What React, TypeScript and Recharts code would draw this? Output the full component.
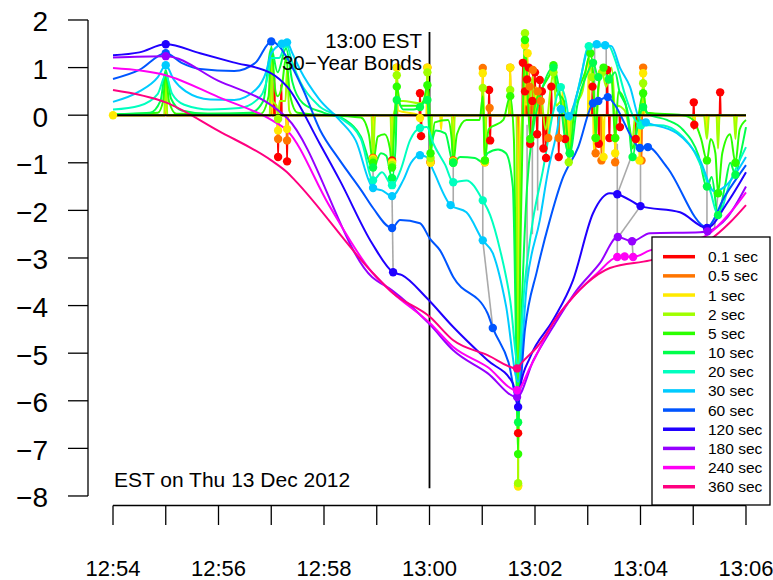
import { LineChart, Line, XAxis, YAxis, ReferenceLine } from "recharts";

const FONT = '"Liberation Sans", Arial, Helvetica, sans-serif';

// [minutes after 12:54 EST, value, dot?]
type Pt = [number, number, number?];

const S_01: Pt[] = [
  [0, 0], [0.99, 0], [1.0, 0.7], [1.01, 0], [2.99, 0], [3.0, 1.2], [3.01, 0], [3.05, 0], [3.06, 0.8], [3.07, 0],
  [3.12, 0], [3.13, -0.88, 1], [3.14, 0], [3.18, 0], [3.19, 0.65], [3.2, 0], [3.29, 0], [3.3, -0.97, 1], [3.31, 0],
  [4.92, 0], [4.93, -0.9, 1], [4.94, 0], [5.28, 0], [5.29, -0.95, 1], [5.3, 0], [5.81, 0], [5.82, 0.46, 1], [5.83, 0],
  [5.84, -0.44, 1], [5.85, 0], [6.01, 0], [6.02, -0.99, 1], [6.03, 0], [6.44, 0], [6.45, -0.95, 1], [6.46, 0],
  [7.12, 0], [7.13, 0.53, 1], [7.14, 0], [7.15, -0.53, 1], [7.16, 0], [7.52, 0], [7.53, 0.6], [7.54, 0], [7.67, 0],
  [7.68, -6.68, 1], [7.69, 0], [7.76, 0], [7.77, 1.1, 1], [7.78, 0], [7.8, 0], [7.81, 0.5, 1], [7.82, 0], [7.84, 0],
  [7.85, 0.75, 1], [7.86, 0], [7.87, 0], [7.88, 1.0, 1], [7.89, 0], [7.9, 0], [7.91, -0.6, 1], [7.92, 0], [7.94, 0],
  [7.95, 0.3, 1], [7.96, 0], [7.99, 0], [8.0, 0.9, 1], [8.01, 0], [8.03, 0], [8.04, -0.4, 1], [8.05, 0], [8.08, 0],
  [8.09, 0.74, 1], [8.1, 0], [8.12, 0], [8.13, 0.5, 1], [8.14, 0], [8.15, 0], [8.16, -0.7, 1], [8.17, 0], [8.2, 0],
  [8.21, -0.9, 1], [8.22, 0], [8.3, 0], [8.31, 0.6, 1], [8.32, 0], [8.44, 0], [8.45, -0.88, 1], [8.46, 0], [8.56, 0],
  [8.57, -0.5, 1], [8.58, 0], [9.08, 0], [9.09, 0.6, 1], [9.1, 0], [9.2, 0], [9.21, -0.6, 1], [9.22, 0], [9.36, 0],
  [9.37, 0.95, 1], [9.38, 0], [9.4, 0], [9.41, -0.48, 1], [9.42, 0], [9.6, 0], [9.61, -0.25, 1], [9.62, 0], [9.9, 0],
  [9.91, -0.5, 1], [9.92, 0], [11.0, 0], [11.01, 0.27, 1], [11.02, -0.2, 1], [11.03, 0], [11.5, 0], [11.51, 0.48, 1],
  [11.52, 0], [12.0, 0],
];

const S_05: Pt[] = [
  [0, 0], [0.99, 0], [1.0, 0.75], [1.01, 0], [2.99, 0], [3.0, 1.3], [3.01, 0], [3.12, 0], [3.13, -0.5, 1], [3.14, 0],
  [3.29, 0], [3.3, -0.53, 1], [3.31, 0], [4.92, 0], [4.93, -0.9, 1], [4.94, 0], [5.28, 0], [5.29, -0.98, 1], [5.3, 0],
  [5.37, 0], [5.38, 1.0, 1], [5.39, 0], [5.95, 0], [5.96, 1.0, 1], [5.97, 0], [6.01, 0], [6.02, -0.99, 1], [6.03, 0],
  [6.44, 0], [6.45, -0.95, 1], [6.46, 0], [7.0, 0], [7.01, 0.99, 1], [7.02, 0], [7.04, 0], [7.05, -0.99, 1], [7.06, 0],
  [7.13, 0], [7.14, 0.15, 1], [7.15, 0], [7.52, 0], [7.53, 1.0, 1], [7.54, 0], [7.67, 0], [7.68, -7.78, 1], [7.69, 0],
  [7.8, 0], [7.81, 1.0], [7.82, 0], [7.89, 0], [7.9, 0.6, 1], [7.91, 0], [7.95, 0], [7.96, 0.95, 1], [7.97, 0],
  [8.04, 0], [8.05, 0.5, 1], [8.06, 0], [8.1, 0], [8.11, 0.3, 1], [8.12, 0], [8.24, 0], [8.25, -0.48, 1], [8.26, 0],
  [8.44, 0], [8.45, -0.48, 1], [8.46, 0], [9.14, 0], [9.15, -0.8, 1], [9.16, 0], [9.25, 0], [9.26, -0.95, 1],
  [9.27, 0], [9.51, 0], [9.52, -0.99, 1], [9.53, 0], [10.01, 0], [10.02, -0.95, 1], [10.03, 0], [10.04, 0.1],
  [10.05, 1.0, 1], [10.06, 0], [11.0, 0], [11.01, -0.3], [11.02, 0], [11.25, 0], [11.26, -0.3], [11.27, 0], [11.46, 0],
  [11.47, -0.45], [11.48, 0], [11.79, 0], [11.8, -0.3], [11.81, 0], [12.0, 0],
];

const S_1: Pt[] = [
  [0, 0, 1], [0.98, 0], [1.0, 0.8], [1.02, 0], [2.98, 0], [3.0, 1.35], [3.02, 0], [3.11, 0], [3.13, -0.32, 1], [3.15, 0],
  [3.28, 0], [3.3, -0.29, 1], [3.32, 0], [4.91, 0], [4.93, -0.92, 1], [4.95, 0], [5.27, 0], [5.29, -1.0, 1], [5.31, 0],
  [5.36, 0], [5.38, 1.0, 1], [5.4, 0.1], [5.8, 0], [5.82, -0.06, 1], [5.84, 0], [5.94, 0], [5.96, 1.0, 1], [5.98, 0],
  [6.0, 0], [6.02, -1.0, 1], [6.04, 0], [6.2, 0], [6.22, -0.3], [6.24, 0], [6.43, 0], [6.45, -0.97, 1], [6.47, 0],
  [6.99, 0], [7.01, 0.88, 1], [7.03, 0], [7.05, -0.99, 1], [7.07, 0], [7.51, 0], [7.53, 1.0, 1], [7.55, 0], [7.66, 0],
  [7.68, -7.8, 1], [7.7, 0], [7.79, 0], [7.81, 1.47, 1], [7.83, 0.2], [7.86, 1.3, 1], [7.88, 0], [8.0, 0], [8.02, 0.6],
  [8.04, 0], [8.25, 0], [8.27, -0.5], [8.29, 0], [8.5, 0], [8.52, 0.5], [8.54, 0], [8.62, 0], [8.64, -0.7], [8.66, 0],
  [9.0, 0], [9.02, 1.2], [9.04, 0], [9.1, 0], [9.12, -0.8], [9.14, 0], [9.28, 0], [9.3, -0.88, 1], [9.32, 0], [9.5, 0],
  [9.52, -0.8, 1], [9.54, 0], [9.96, 0], [9.98, -0.95, 1], [10.0, 0], [10.03, 0], [10.05, 0.88, 1], [10.07, 0],
  [11.0, 0], [11.02, -0.2], [11.04, 0], [11.24, 0], [11.26, -0.4], [11.28, 0], [11.45, 0], [11.47, -0.5], [11.49, 0],
  [11.78, 0], [11.8, -0.4], [11.82, 0], [12.0, 0],
];

const S_2: Pt[] = [
  [0, 0], [0.97, 0], [1.0, 0.85], [1.03, 0], [2.97, 0], [3.0, 1.4], [3.03, 0.3], [3.1, 0.2], [3.13, -0.08, 1],
  [3.16, 0.3], [3.27, 0.3], [3.3, 1.0], [3.34, 0.1], [3.4, 0], [4.9, 0], [4.93, -0.95, 1], [4.97, 0], [5.26, 0],
  [5.29, -1.05, 1], [5.32, 0], [5.36, 0.2], [5.38, 0.84, 1], [5.42, 0.3], [5.5, 0.3], [5.8, 0.25], [5.94, 0.3],
  [5.96, 0.9, 1], [5.99, 0.2], [6.02, -0.9, 1], [6.05, 0], [6.42, 0], [6.45, -0.98, 1], [6.48, 0], [6.98, 0],
  [7.01, 0.57, 1], [7.03, 0], [7.05, -0.95, 1], [7.08, 0], [7.5, 0], [7.53, 0.53, 1], [7.56, 0], [7.65, 0],
  [7.68, -7.73, 1], [7.72, -1.0], [7.78, 0.5], [7.81, 1.72, 1], [7.85, 0.3], [7.9, 0.2], [7.95, 0.8], [8.0, 0.2],
  [8.1, 0.5], [8.2, -0.3], [8.3, 0.6], [8.35, 0.9, 1], [8.4, 0.2], [8.5, 0.3], [8.6, -0.5], [8.64, -0.99, 1], [8.7, 0.1],
  [8.9, 0.5], [9.02, 1.2], [9.08, 0.8, 1], [9.12, 0.3], [9.15, -0.48, 1], [9.2, 0.5], [9.27, 0.9, 1], [9.35, 0.6],
  [9.45, 1.0], [9.5, 0.3], [9.52, -0.48, 1], [9.56, 0.2], [9.7, 0.1], [9.85, -0.5], [9.9, 0], [10.02, 0],
  [10.05, 0.67, 1], [10.1, 0.05], [10.6, 0], [11.2, 0], [11.26, -0.5], [11.3, 0], [11.44, 0], [11.47, -0.7], [11.5, 0],
  [11.77, 0], [11.8, -0.5], [11.83, 0], [12.0, 0],
];

const S_5: Pt[] = [
  [0, 0.01], [0.85, 0.05], [0.95, 0.3], [1.0, 0.9], [1.06, 0.3], [1.2, 0.03], [2.8, 0.03], [2.95, 0.4], [3.0, 1.45],
  [3.08, 0.5], [3.12, 0.4], [3.2, 0.6], [3.28, 1.2], [3.36, 0.4], [3.5, 0.05], [4.7, -0.05], [4.85, -0.4],
  [4.93, -1.0, 1], [5.02, -0.45], [5.15, -0.4], [5.25, -0.7], [5.29, -1.1, 1], [5.33, -0.3], [5.38, 0.6, 1], [5.45, 0.2],
  [5.7, 0.2], [5.82, 0.2], [5.9, 0.35], [5.96, 0.63, 1], [6.0, 0.1], [6.02, -0.8, 1], [6.1, -0.15], [6.35, -0.1],
  [6.42, -0.5], [6.45, -1.0, 1], [6.52, -0.4], [6.7, -0.1], [6.95, -0.1], [7.01, 0.4], [7.05, -0.95, 1], [7.12, -0.3],
  [7.4, -0.1], [7.53, 0.4, 1], [7.6, -0.5], [7.68, -7.12, 1], [7.72, -3.0], [7.78, 0.5], [7.81, 1.58, 1], [7.86, 0.5],
  [7.91, -0.5, 1], [8.0, 0.2], [8.15, 0.6], [8.3, 0.9], [8.35, 1.05, 1], [8.42, 0.5], [8.55, 0.3], [8.62, -0.5],
  [8.66, -0.8, 1], [8.75, 0.2], [8.95, 0.9], [9.05, 1.3, 1], [9.1, 0.9], [9.15, -0.48, 1], [9.2, 0.6], [9.3, 1.0, 1],
  [9.45, 0.8], [9.52, -0.48, 1], [9.58, 0.5], [9.7, 0.3], [9.8, -0.3], [9.85, -0.7], [9.95, -0.1], [10.05, 0.46, 1],
  [10.12, 0.05], [10.8, 0], [11.0, -0.1], [11.15, -0.5], [11.26, -0.95, 1], [11.33, -0.5], [11.42, -0.8],
  [11.47, -1.64, 1], [11.55, -0.8], [11.7, -0.4], [11.8, -1.0, 1], [11.88, -0.3], [12.0, -0.1],
];

const S_10: Pt[] = [
  [0, 0.02], [0.7, 0.05], [0.9, 0.3], [1.0, 0.95], [1.1, 0.35], [1.3, 0.1], [1.8, 0.03], [2.6, 0.05], [2.85, 0.3],
  [3.0, 1.4], [3.12, 0.9], [3.28, 1.4], [3.4, 0.7], [3.6, 0.25], [4.0, 0.05], [4.4, -0.1], [4.7, -0.45],
  [4.93, -1.1, 1], [5.08, -0.8], [5.18, -0.85], [5.29, -1.32, 1], [5.36, -0.6], [5.38, 0.32, 1], [5.5, 0.12],
  [5.7, 0.12], [5.82, 0.17, 1], [5.96, 0.32, 1], [6.01, -0.63], [6.12, -0.32], [6.3, -0.38], [6.45, -1.0, 1],
  [6.58, -0.88], [6.86, -0.9], [7.01, -0.99], [7.1, -0.8], [7.3, -0.72], [7.45, -0.8], [7.58, -1.5], [7.68, -6.45, 1],
  [7.75, -4.0], [7.85, -1.5], [7.95, -0.4], [8.1, 0.4], [8.35, 1.0, 1], [8.45, 0.6], [8.6, -0.7], [8.66, -0.8, 1],
  [8.8, 0.2], [9.0, 0.9], [9.1, 1.1, 1], [9.2, 0.8, 1], [9.3, 1.0], [9.4, 0.75, 1], [9.52, 0.9], [9.6, 0.5],
  [9.75, 0.1], [9.85, -0.88, 1], [9.95, -0.2], [10.05, 0.17, 1], [10.15, 0.02], [10.5, -0.1], [10.8, -0.3],
  [11.1, -0.85], [11.26, -1.5, 1], [11.35, -1.3], [11.47, -2.1, 1], [11.6, -1.5], [11.7, -1.0], [11.8, -1.25, 1],
  [11.9, -0.8], [12.0, -0.25],
];

const S_20: Pt[] = [
  [0, 0.12], [0.5, 0.2], [0.85, 0.45], [1.0, 0.85], [1.12, 0.45], [1.35, 0.22], [1.84, 0.12], [2.4, 0.15], [2.8, 0.4],
  [2.95, 0.9], [3.0, 1.2], [3.15, 1.2], [3.28, 1.5, 1], [3.4, 1.1], [3.55, 0.7], [3.9, 0.2], [4.3, -0.05], [4.7, -0.5],
  [4.93, -1.37, 1], [5.1, -1.2], [5.29, -1.47, 1], [5.45, -1.16], [5.63, -0.53], [5.82, -0.27, 1], [5.95, -0.25],
  [6.07, -0.59], [6.3, -1.05], [6.45, -1.41, 1], [6.7, -1.37], [7.01, -1.79, 1], [7.15, -2.1], [7.34, -2.84],
  [7.53, -3.89], [7.68, -5.25], [7.8, -3.6], [7.96, -2.21], [8.15, -1.16], [8.34, 0.04], [8.49, 0.59, 1], [8.57, 0.38],
  [8.66, -0.1], [8.85, 0.7], [9.02, 1.45, 1], [9.2, 1.45], [9.4, 1.45], [9.52, 1.16], [9.71, 0.42], [9.9, -0.1],
  [10.01, -0.21, 1], [10.37, -0.21], [10.94, -0.63], [11.32, -1.58], [11.47, -2.1], [11.7, -1.4], [12.0, -0.67],
];

const S_30: Pt[] = [
  [0, 0.28], [0.5, 0.5], [0.85, 0.8], [1.0, 1.05, 1], [1.15, 0.75], [1.38, 0.5], [1.84, 0.33], [2.3, 0.32],
  [2.72, 0.55], [2.9, 0.9], [3.0, 1.3], [3.2, 1.5, 1], [3.3, 1.53, 1], [3.4, 1.3], [3.55, 0.95], [3.9, 0.35],
  [4.3, -0.11], [4.6, -0.53], [4.93, -1.53, 1], [5.1, -1.58], [5.29, -1.7, 1], [5.5, -1.37], [5.65, -1.0],
  [5.82, -0.84, 1], [5.95, -0.88], [6.07, -1.16], [6.4, -1.89, 1], [6.7, -2.04], [7.01, -2.63, 1], [7.2, -2.9],
  [7.45, -4.0], [7.68, -5.6], [7.85, -3.5], [8.09, -2.21], [8.25, -1.16], [8.42, -0.32], [8.49, 0.13, 1],
  [8.64, -0.02, 1], [8.8, 0.46], [9.04, 1.47], [9.17, 1.49, 1], [9.33, 1.47, 1], [9.45, 1.45], [9.61, 1.0], [9.8, 0.6],
  [9.99, -0.1], [10.1, -0.15, 1], [10.69, -0.38], [11.13, -0.95], [11.4, -1.6], [11.6, -1.5], [12.0, -0.88],
];

const S_60: Pt[] = [
  [0, 0.76], [0.5, 0.95], [1.0, 1.3, 1], [1.3, 1.1], [1.65, 0.97], [2.3, 0.93], [2.7, 1.1], [3.0, 1.55, 1],
  [3.15, 1.45], [3.3, 1.2], [3.6, 0.55], [3.92, -0.3], [4.3, -0.95], [4.72, -1.6], [4.93, -1.95], [5.29, -2.37, 1],
  [5.44, -2.2], [5.82, -2.27], [6.01, -2.6], [6.2, -2.84], [6.45, -3.4], [7.1, -4.16], [7.2, -4.47, 1], [7.5, -5.2],
  [7.68, -6.05], [7.81, -4.5], [8.04, -3.26], [8.28, -2.21], [8.51, -1.37], [8.82, -0.67], [9.1, 0.25, 1],
  [9.2, 0.3, 1], [9.38, 0.38, 1], [9.48, 0.27], [9.93, -0.63], [9.99, -0.69, 1], [10.14, -0.67, 1], [10.5, -1.09],
  [11.26, -2.35], [11.6, -1.7], [12.0, -1.05],
];

const S_120: Pt[] = [
  [0, 1.26], [0.5, 1.32], [1.0, 1.49, 1], [1.65, 1.3], [2.28, 1.11], [3.0, 0.88], [3.3, 0.6], [3.92, -0.6],
  [4.3, -1.37], [4.91, -2.69], [5.31, -3.3, 1], [5.48, -3.36], [5.93, -3.82], [6.45, -4.45], [7.1, -5.15],
  [7.58, -5.63], [7.68, -6.13, 1], [7.72, -5.71], [7.91, -5.08], [8.34, -4.31], [8.72, -3.47], [9.1, -2.06],
  [9.42, -1.64], [9.56, -1.66, 1], [9.9, -1.85], [10.0, -1.91, 1], [10.75, -2.04], [11.26, -2.37, 1], [11.64, -1.85],
  [12.0, -1.2],
];

const S_180: Pt[] = [
  [0, 1.21], [1.0, 1.24, 1], [2.0, 0.72], [3.0, 0.21], [3.3, -0.06], [4.91, -3.4], [5.29, -3.68], [6.01, -4.4],
  [6.45, -4.94], [7.1, -5.42], [7.66, -5.92, 1], [7.97, -5.15], [8.34, -4.45], [8.79, -3.68], [9.23, -3.11],
  [9.57, -2.56, 1], [9.84, -2.65, 1], [10.18, -2.48], [11.13, -2.46], [11.27, -2.44, 1], [11.65, -2.14], [12.0, -1.5],
];

const S_240: Pt[] = [
  [0, 0.99], [1.0, 0.84], [2.0, 0.38], [3.0, -0.1], [3.3, -0.32], [4.1, -1.9], [4.91, -3.3], [5.29, -3.72],
  [6.01, -4.37], [6.45, -4.87], [7.1, -5.29], [7.66, -5.78, 1], [7.91, -5.29], [8.34, -4.37], [8.72, -3.82],
  [9.18, -3.32], [9.56, -2.98, 1], [9.7, -2.97, 1], [9.86, -2.98, 1], [10.18, -2.84], [10.75, -2.7], [11.26, -2.52],
  [11.7, -2.05], [12.0, -1.62],
];

const S_360: Pt[] = [
  [0, 0.53], [1.0, 0.27], [2.0, -0.33], [3.0, -0.95], [3.3, -1.2], [3.45, -1.37], [4.93, -3.32], [5.31, -3.74],
  [6.01, -4.24], [6.45, -4.73], [7.1, -5.04], [7.66, -5.32, 1], [7.75, -5.2], [8.04, -4.87], [8.47, -4.16],
  [8.98, -3.53], [9.42, -3.21], [10.18, -3.05], [10.75, -2.88], [11.3, -2.63], [11.7, -2.25], [12.0, -1.89],
];

// grey connectors between dots: [t1, v1, t2, v2]
const GREY_LINKS: number[][] = [
  [4.93, -1.0, 4.93, -1.53], [5.29, -1.7, 5.31, -3.3], [6.45, -1.0, 6.45, -1.89], [7.01, -0.99, 7.01, -2.63],
  [7.01, -2.63, 7.2, -4.47], [7.85, -0.2, 7.85, -3.5], [7.95, -0.5, 7.95, -2.5], [8.05, 0.2, 8.05, -2.0],
  [9.13, 1.45, 9.13, 0.27], [9.35, 1.45, 9.35, 0.38], [9.56, -0.6, 9.56, -2.98], [9.85, -0.8, 9.56, -1.66],
  [10.0, -0.69, 10.0, -1.91], [9.58, -2.56, 10.0, -1.91], [9.84, -2.65, 9.86, -2.98], [11.26, -0.95, 11.26, -2.4],
  [11.47, -1.64, 11.4, -2.4],
];

const ZERO_LINE: Pt[] = [[0, 0], [12, 0]];
const EVENT_LINE: Pt[] = [[6, -7.84], [6, 1.75]];

const SERIES = [
  { name: "0.1 sec", color: "#FF0000", pts: S_01 },
  { name: "0.5 sec", color: "#FF7500", pts: S_05 },
  { name: "1 sec", color: "#FFEA00", pts: S_1 },
  { name: "2 sec", color: "#A0FF00", pts: S_2 },
  { name: "5 sec", color: "#2BFF00", pts: S_5 },
  { name: "10 sec", color: "#00FF4A", pts: S_10 },
  { name: "20 sec", color: "#00FFBF", pts: S_20 },
  { name: "30 sec", color: "#00CBFF", pts: S_30 },
  { name: "60 sec", color: "#0055FF", pts: S_60 },
  { name: "120 sec", color: "#2000FF", pts: S_120 },
  { name: "180 sec", color: "#9600FF", pts: S_180 },
  { name: "240 sec", color: "#FF00F5", pts: S_240 },
  { name: "360 sec", color: "#FF0080", pts: S_360 },
];

const X_TICKS = [0, 1, 2, 3, 4, 5, 6, 7, 8, 9, 10, 11, 12];
const Y_TICKS = [-8, -7, -6, -5, -4, -3, -2, -1, 0, 1, 2];
const X_DOMAIN = [-0.474, 12.512];
const Y_DOMAIN = [-8.2, 2.13];

const toRows = (pts: Pt[]) => pts.map(([t, v, d]) => ({ t, v, d: !!d }));

function clock(m: number) {
  const total = 12 * 60 + 54 + m;
  const h = Math.floor(total / 60);
  const mm = total % 60;
  return `${h}:${mm < 10 ? "0" + mm : mm}`;
}

function XTick({ x, y, payload }: any) {
  const m = payload.value;
  return (
    <g>
      <line x1={x} x2={x} y1={y} y2={y + 19.5} stroke="#000" strokeWidth={1.3} />
      {m % 2 === 0 && (
        <text x={x} y={y + 70.5} textAnchor="middle" fontSize={22} fontFamily={FONT} fill="#000">
          {clock(m)}
        </text>
      )}
    </g>
  );
}

function YTick({ x, y, payload }: any) {
  const v = payload.value;
  return (
    <g>
      <line x1={x - 20} x2={x} y1={y} y2={y} stroke="#000" strokeWidth={1.3} />
      <text x={x - 40} y={y + 11.5} textAnchor="end" fontSize={28} fontFamily={FONT} fill="#000">
        {v < 0 ? "\u2212" + Math.abs(v) : String(v)}
      </text>
    </g>
  );
}

function dotFor(color: string) {
  return (p: any) =>
    p.payload && p.payload.d ? (
      <circle key={`d-${p.index}`} cx={p.cx} cy={p.cy} r={4.2} fill={color} stroke="none" />
    ) : (
      <g key={`n-${p.index}`} />
    );
}

function Overlay() {
  return (
    <svg width={773} height={580} style={{ position: "absolute", left: 0, top: 0, pointerEvents: "none" }}>
      <g fontFamily={FONT} fill="#000">
        <text x={422} y={48.3} fontSize={20.5} textAnchor="end">13:00 EST</text>
        <text x={422} y={70} fontSize={20.5} textAnchor="end">30{"\u2212"}Year Bonds</text>
        <text x={114} y={487.3} fontSize={21}>EST on Thu 13 Dec 2012</text>
      </g>
      <rect x={652} y={237} width={118} height={268} fill="#fff" stroke="#000" strokeWidth={1.3} />
      {SERIES.map((s, i) => {
        const cy = 256.7 + i * 19.17;
        return (
          <g key={s.name}>
            <line x1={663} x2={695} y1={cy} y2={cy} stroke={s.color} strokeWidth={3.5} />
            <text x={708} y={cy + 5.5} fontSize={15.5} fontFamily={FONT} fill="#000">{s.name}</text>
          </g>
        );
      })}
    </svg>
  );
}

export default function App() {
  return (
    <div style={{ position: "absolute", left: 0, top: 0, width: 773, height: 580, background: "#fff" }}>
      <LineChart width={773} height={580} margin={{ top: 13.8, right: 0, bottom: 4.5, left: 0 }}>
        <XAxis
          dataKey="t"
          type="number"
          domain={X_DOMAIN}
          allowDataOverflow
          ticks={X_TICKS}
          interval={0}
          axisLine={false}
          tickLine={false}
          tickSize={0}
          tickMargin={0}
          height={70}
          tick={<XTick />}
        />
        <YAxis
          type="number"
          domain={Y_DOMAIN}
          allowDataOverflow
          ticks={Y_TICKS}
          interval={0}
          axisLine={false}
          tickLine={false}
          tickSize={0}
          tickMargin={0}
          width={88}
          tick={<YTick />}
        />
        <ReferenceLine
          segment={[{ x: X_DOMAIN[0], y: 2 }, { x: X_DOMAIN[0], y: -8 }]}
          stroke="#000"
          strokeWidth={1.3}
          ifOverflow="visible"
        />
        <ReferenceLine
          segment={[{ x: 0, y: Y_DOMAIN[0] }, { x: 12, y: Y_DOMAIN[0] }]}
          stroke="#000"
          strokeWidth={1.3}
          ifOverflow="visible"
        />
        {GREY_LINKS.map((g, i) => (
          <Line
            key={`g${i}`}
            data={[{ t: g[0], v: g[1] }, { t: g[2], v: g[3] }]}
            dataKey="v"
            type="linear"
            stroke="#AAAAAA"
            strokeWidth={1.6}
            dot={false}
            activeDot={false}
            isAnimationActive={false}
          />
        ))}
        <Line data={toRows(EVENT_LINE)} dataKey="v" type="linear" stroke="#000" strokeWidth={1.8} dot={false} activeDot={false} isAnimationActive={false} />
        {SERIES.map((s) => (
          <Line
            key={s.name}
            name={s.name}
            data={toRows(s.pts)}
            dataKey="v"
            type="monotone"
            stroke={s.color}
            strokeWidth={2}
            dot={dotFor(s.color)}
            activeDot={false}
            isAnimationActive={false}
          />
        ))}
        <Line data={toRows(ZERO_LINE)} dataKey="v" type="linear" stroke="#000" strokeWidth={2} dot={false} activeDot={false} isAnimationActive={false} />
      </LineChart>
      <Overlay />
    </div>
  );
}
